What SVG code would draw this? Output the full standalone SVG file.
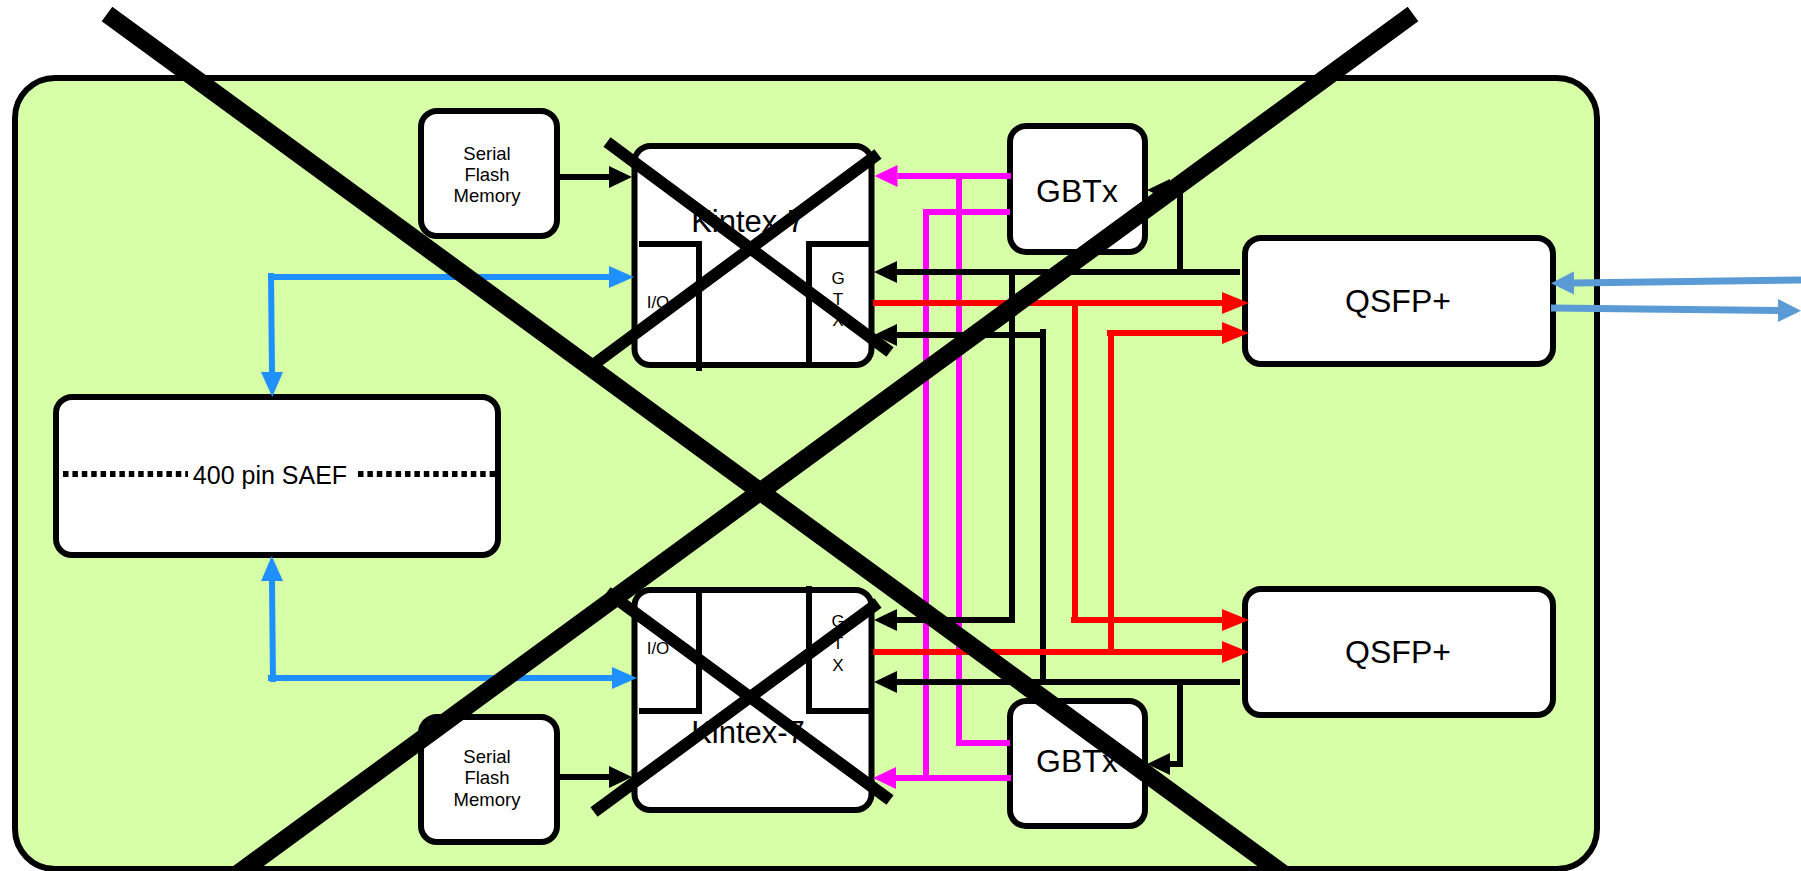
<svg xmlns="http://www.w3.org/2000/svg" width="1801" height="871" viewBox="0 0 1801 871">
<style>
.board{fill:#d6ffa8;stroke:#000;stroke-width:6}
.box{fill:#fff;stroke:#000;stroke-width:6}
.part{fill:none;stroke:#000;stroke-width:6}
.dots{fill:none;stroke:#000;stroke-width:6;stroke-dasharray:5.5 3.9}
text{font-family:"Liberation Sans",Arial,sans-serif;fill:#000;text-anchor:middle}
.big{font-size:32px}
.kin{font-size:31px}
.mid{font-size:25px}
.small{font-size:18.5px}
.tiny{font-size:17px}
.c{fill:none;stroke-width:6}
.k{stroke:#000}
.r{stroke:#f00}
.m{stroke:#f0f}
.b{stroke:#1e90ff}
.s{stroke:#5b9bd5;stroke-width:7}
.cross{stroke:#000;stroke-width:12;fill:none}
.crossbig{stroke:#000;stroke-width:18;fill:none}
</style>
<defs>
<marker id="ak" markerUnits="userSpaceOnUse" markerWidth="24" markerHeight="24" refX="0" refY="12" orient="auto"><path d="M0 1L23 12L0 23Z" fill="#000"/></marker>
<marker id="ar" markerUnits="userSpaceOnUse" markerWidth="30" markerHeight="24" refX="0" refY="12" orient="auto"><path d="M0 1L27 12L0 23Z" fill="#f00"/></marker>
<marker id="am" markerUnits="userSpaceOnUse" markerWidth="24" markerHeight="24" refX="0" refY="12" orient="auto"><path d="M0 1L23 12L0 23Z" fill="#f0f"/></marker>
<marker id="ab" markerUnits="userSpaceOnUse" markerWidth="28" markerHeight="24" refX="0" refY="12" orient="auto"><path d="M0 1L25 12L0 23Z" fill="#1e90ff"/></marker>
<marker id="as" markerUnits="userSpaceOnUse" markerWidth="26" markerHeight="26" refX="0" refY="13" orient="auto"><path d="M0 1.500L23 13L0 24.500Z" fill="#5b9bd5"/></marker>
</defs>
<g id="board"><rect class="board" x="15" y="78" width="1582" height="791" rx="40"/></g>
<g id="flash-top"><rect class="box" x="421" y="111" width="136" height="125" rx="16"/><text class="small" x="487" y="160">Serial</text><text class="small" x="487" y="181">Flash</text><text class="small" x="487" y="202">Memory</text></g>
<g id="flash-bottom"><rect class="box" x="421" y="717" width="136" height="125" rx="16"/><text class="small" x="487" y="763">Serial</text><text class="small" x="487" y="784">Flash</text><text class="small" x="487" y="806">Memory</text></g>
<g id="kintex-top"><rect class="box" x="634.500" y="146" width="237" height="219" rx="16"/><path class="part" d="M639 244H699V371M809 365V244H871"/><text class="kin" x="748" y="232">Kintex-7</text><text class="tiny" x="658" y="308">I/O</text><text class="tiny" x="838" y="284">G</text><text class="tiny" x="838" y="305">T</text><text class="tiny" x="838" y="326">X</text></g>
<g id="kintex-bottom"><rect class="box" x="634.500" y="590" width="237" height="220" rx="16"/><path class="part" d="M639 711H699V590M809 586V711H871"/><text class="kin" x="748" y="743">Kintex-7</text><text class="tiny" x="658" y="654">I/O</text><text class="tiny" x="838" y="627">G</text><text class="tiny" x="838" y="649">T</text><text class="tiny" x="838" y="671">X</text></g>
<g id="saef"><rect class="box" x="56" y="397" width="442" height="158" rx="16"/><path class="dots" d="M63 474H188M358 474H495"/><text class="mid" x="270" y="484">400 pin SAEF</text></g>
<g id="gbtx-top"><rect class="box" x="1010" y="126" width="135" height="126" rx="16"/><text class="big" x="1077" y="202">GBTx</text></g>
<g id="gbtx-bottom"><rect class="box" x="1010" y="701" width="135" height="125" rx="16"/><text class="big" x="1077" y="772">GBTx</text></g>
<g id="qsfp-top"><rect class="box" x="1245" y="238" width="308" height="126" rx="16"/><text class="big" x="1398" y="312">QSFP+</text></g>
<g id="qsfp-bottom"><rect class="box" x="1245" y="589" width="308" height="126" rx="16"/><text class="big" x="1398" y="663">QSFP+</text></g>
<g id="connectors">
<path class="c k" d="M560 177H609" marker-end="url(#ak)"/>
<path class="c k" d="M560 777H609" marker-end="url(#ak)"/>
<path class="c m" d="M1011 176H897.500" marker-end="url(#am)"/>
<path class="c m" d="M959 176V743H1010"/>
<path class="c m" d="M1010 212H926V778"/>
<path class="c m" d="M1011 778H896" marker-end="url(#am)"/>
<path class="c k" d="M1240 272H897" marker-end="url(#ak)"/>
<path class="c k" d="M1180 272V190H1170" marker-end="url(#ak)"/>
<path class="c k" d="M1012 272V623"/>
<path class="c k" d="M1012 620H897" marker-end="url(#ak)"/>
<path class="c k" d="M1043 329V682"/>
<path class="c k" d="M1043 335H897" marker-end="url(#ak)"/>
<path class="c k" d="M1240 682H897" marker-end="url(#ak)"/>
<path class="c k" d="M1180 682V764H1170" marker-end="url(#ak)"/>
<path class="c r" d="M873 303H1222" marker-end="url(#ar)"/>
<path class="c r" d="M1075 303V620"/>
<path class="c r" d="M1071 620H1222" marker-end="url(#ar)"/>
<path class="c r" d="M1107 333H1222" marker-end="url(#ar)"/>
<path class="c r" d="M1111 333V655"/>
<path class="c r" d="M873 652H1222" marker-end="url(#ar)"/>
<path class="c b" d="M268 277H609" marker-end="url(#ab)"/>
<path class="c b" d="M271 273L272 372" marker-end="url(#ab)"/>
<path class="c b" d="M268 678H612" marker-end="url(#ab)"/>
<path class="c b" d="M273 682L272 581" marker-end="url(#ab)"/>
<path class="c s" d="M1801 280L1574 283" marker-end="url(#as)"/>
<path class="c s" d="M1551 308L1778 310.500" marker-end="url(#as)"/>
</g>
<g id="crossouts">
<path class="cross" d="M607 142L890 352M593 365L878 154"/>
<path class="cross" d="M607 592L890 800M594 812L878 603"/>
<path class="crossbig" d="M107 14L1293 881M1413 14L228 881"/>
</g>
</svg>
